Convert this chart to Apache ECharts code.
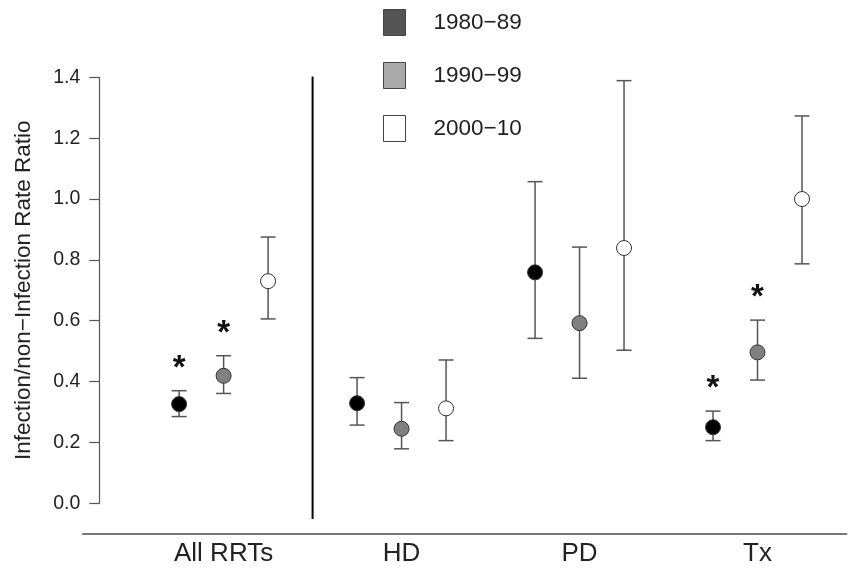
<!DOCTYPE html>
<html>
<head>
<meta charset="utf-8">
<script src="https://cdn.jsdelivr.net/npm/echarts@6/dist/echarts.min.js"></script>
<style>
  html, body { margin: 0; padding: 0; background: #fff; }
  #main { width: 849px; height: 569px; }
</style>
</head>
<body>
<div id="main"></div>
<script>
// categories along the x axis, placed at 1..4
var categories = ['All RRTs', 'HD', 'PD', 'Tx'];
var periods = ['1980\u221289', '1990\u221299', '2000\u221210'];

// rate ratio estimates and 95% CI, one array per period (order = categories)
var est1980 = [0.326, 0.329, 0.759, 0.250];
var low1980 = [0.285, 0.257, 0.542, 0.206];
var high1980 = [0.370, 0.413, 1.057, 0.303];

var est1990 = [0.419, 0.245, 0.592, 0.496];
var low1990 = [0.361, 0.179, 0.411, 0.405];
var high1990 = [0.485, 0.331, 0.842, 0.602];

var est2000 = [0.730, 0.312, 0.839, 1.000];
var low2000 = [0.606, 0.206, 0.503, 0.787];
var high2000 = [0.875, 0.471, 1.389, 1.273];

// significance flags (asterisk above the bar)
var sig1980 = [1, 0, 0, 1];
var sig1990 = [1, 0, 0, 1];
var sig2000 = [0, 0, 0, 0];

var yTicks = [0, 0.2, 0.4, 0.6, 0.8, 1.0, 1.2, 1.4];

var FONT = '"Liberation Sans", Arial, Helvetica, sans-serif';
var offsets = [-0.25, 0, 0.25];
var pointFill = ['#000000', '#808080', '#ffffff'];
var legendFill = ['#555555', '#aaaaaa', '#ffffff'];

function buildData(k, est, low, high, sig) {
  var out = [];
  for (var i = 0; i < categories.length; i++) {
    out.push([i + 1 + offsets[k], est[i], low[i], high[i], sig[i]]);
  }
  return out;
}

function makeRender(fill) {
  return function (params, api) {
    var x = api.value(0);
    var p = api.coord([x, api.value(1)]);
    var pl = api.coord([x, api.value(2)]);
    var ph = api.coord([x, api.value(3)]);
    var w = 7.5;
    var stroke = { stroke: '#555', lineWidth: 1.5 };
    var children = [
      { type: 'line', shape: { x1: p[0], y1: pl[1], x2: p[0], y2: ph[1] }, style: stroke },
      { type: 'line', shape: { x1: p[0] - w, y1: pl[1], x2: p[0] + w, y2: pl[1] }, style: stroke },
      { type: 'line', shape: { x1: p[0] - w, y1: ph[1], x2: p[0] + w, y2: ph[1] }, style: stroke },
      { type: 'circle', shape: { cx: p[0], cy: p[1], r: 7.5 }, style: { fill: fill, stroke: '#333', lineWidth: 1 } }
    ];
    if (api.value(4)) {
      children.push({
        type: 'text',
        style: {
          x: p[0], y: ph[1] - 22, text: '*',
          font: 'bold 33px ' + FONT, fill: '#111',
          textAlign: 'center', textVerticalAlign: 'middle'
        }
      });
    }
    return { type: 'group', children: children };
  };
}

var chart = echarts.init(document.getElementById('main'));

var series = [
  { name: periods[0], type: 'custom', renderItem: makeRender(pointFill[0]),
    data: buildData(0, est1980, low1980, high1980, sig1980), z: 3 },
  { name: periods[1], type: 'custom', renderItem: makeRender(pointFill[1]),
    data: buildData(1, est1990, low1990, high1990, sig1990), z: 3 },
  { name: periods[2], type: 'custom', renderItem: makeRender(pointFill[2]),
    data: buildData(2, est2000, low2000, high2000, sig2000), z: 3 },
  // separator between All RRTs and the modality groups
  { name: 'sep', type: 'custom', silent: true,
    data: [[1.5, -0.052, 1.403]],
    renderItem: function (params, api) {
      var a = api.coord([api.value(0), api.value(1)]);
      var b = api.coord([api.value(0), api.value(2)]);
      return { type: 'line', shape: { x1: a[0], y1: a[1], x2: b[0], y2: b[1] },
        style: { stroke: '#000', lineWidth: 2 } };
    }
  }
];

chart.setOption({
  backgroundColor: '#fff',
  animation: false,
  textStyle: { fontFamily: FONT },
  grid: { left: 83, right: 2.5, top: 77.3, bottom: 65.7 },
  legend: {
    orient: 'vertical',
    left: 383, top: 9, padding: 0,
    itemWidth: 22, itemHeight: 26, itemGap: 26,
    textStyle: { fontSize: 22.5, color: '#222', padding: [0, 0, 0, 23] },
    data: periods.map(function (p, k) {
      return { name: p, icon: 'rect',
        itemStyle: { color: legendFill[k], borderColor: '#444', borderWidth: 1 } };
    })
  },
  xAxis: {
    type: 'value', min: 0.21, max: 4.5,
    offset: 30,
    splitLine: { show: false },
    axisLine: { show: true, onZero: false, lineStyle: { color: '#777', width: 2 } },
    axisTick: { show: false },
    axisLabel: {
      customValues: [1, 2, 3, 4],
      formatter: function (v) { return categories[Math.round(v) - 1]; },
      fontSize: 26, color: '#222', margin: 8
    }
  },
  yAxis: {
    type: 'value', min: 0, max: 1.4, interval: 0.2,
    offset: -16.3,
    name: 'Infection/non\u2212Infection Rate Ratio',
    nameLocation: 'middle', nameGap: 64,
    nameTextStyle: { fontSize: 22.5, color: '#222' },
    splitLine: { show: false },
    axisLine: { show: true, lineStyle: { color: '#555', width: 1.2 } },
    axisTick: { show: true, length: 10, lineStyle: { color: '#555', width: 1.2 }, customValues: yTicks },
    axisLabel: { fontSize: 19.5, color: '#222', margin: 19,
      customValues: yTicks,
      formatter: function (v) { return v.toFixed(1); } }
  },
  series: series
});
</script>
</body>
</html>
